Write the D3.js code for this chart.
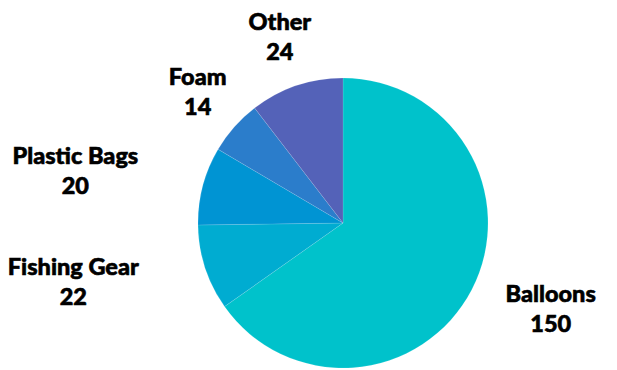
<!DOCTYPE html>
<html>
<head>
<meta charset="utf-8">
<script src="https://cdn.jsdelivr.net/npm/d3@7"></script>
<style>
    body{ margin:0; background:#fff; }
    .label{ font-family:'Lato', sans-serif; font-weight:900; font-size:23.5px; fill:#000;
            stroke:#000; stroke-width:0.6px; paint-order:stroke; }
</style>
</head>
<body>
<script>
// data
const categories = ['Balloons', 'Fishing Gear', 'Plastic Bags', 'Foam', 'Other'];
const values = [150, 22, 20, 14, 24];
const colors = ['#00c2cb', '#00acd1', '#0094d3', '#2b7dcb', '#5462b8'];

// label fine placement (px), same order as categories
const labelNudge = [[39,-2], [-89,0], [-84,-4], [-3,-6], [-2,-7]];

const width = 617, height = 370;
const cx = 343, cy = 223, radius = 145, labelRadius = 190;

const dataset = categories.map((k,i)=>({k, v: values[i]}));

const svg = d3.select('body').append('svg')
    .attr('width', width).attr('height', height);
const chart = svg.append('g').attr('transform', `translate(${cx},${cy})`);

const pieGen = d3.pie().value(d=>d.v).sort(null);
const arcs = pieGen(dataset);

const arcGen = d3.arc().innerRadius(0).outerRadius(radius);
const labelArc = d3.arc().innerRadius(labelRadius).outerRadius(labelRadius);

chart.selectAll('path.arc')
    .data(arcs)
    .join('path')
    .classed('arc', true)
    .attr('d', arcGen)
    .attr('fill', (d,i)=>colors[i])
    .attr('stroke', '#fff')
    .attr('stroke-opacity', 0.4)
    .attr('stroke-width', 0.3);

const labels = chart.selectAll('text.label')
    .data(arcs)
    .join('text')
    .classed('label', true)
    .attr('text-anchor', 'middle')
    .attr('transform', (d,i)=>{
        let [x, y] = labelArc.centroid(d);
        return `translate(${x+labelNudge[i][0]},${y+labelNudge[i][1]})`;
    });

labels.append('tspan').attr('x', 0).attr('y', -6.5).text(d=>d.data.k);
labels.append('tspan').attr('x', 0).attr('y', 23.5).text(d=>d.data.v);
</script>
</body>
</html>
